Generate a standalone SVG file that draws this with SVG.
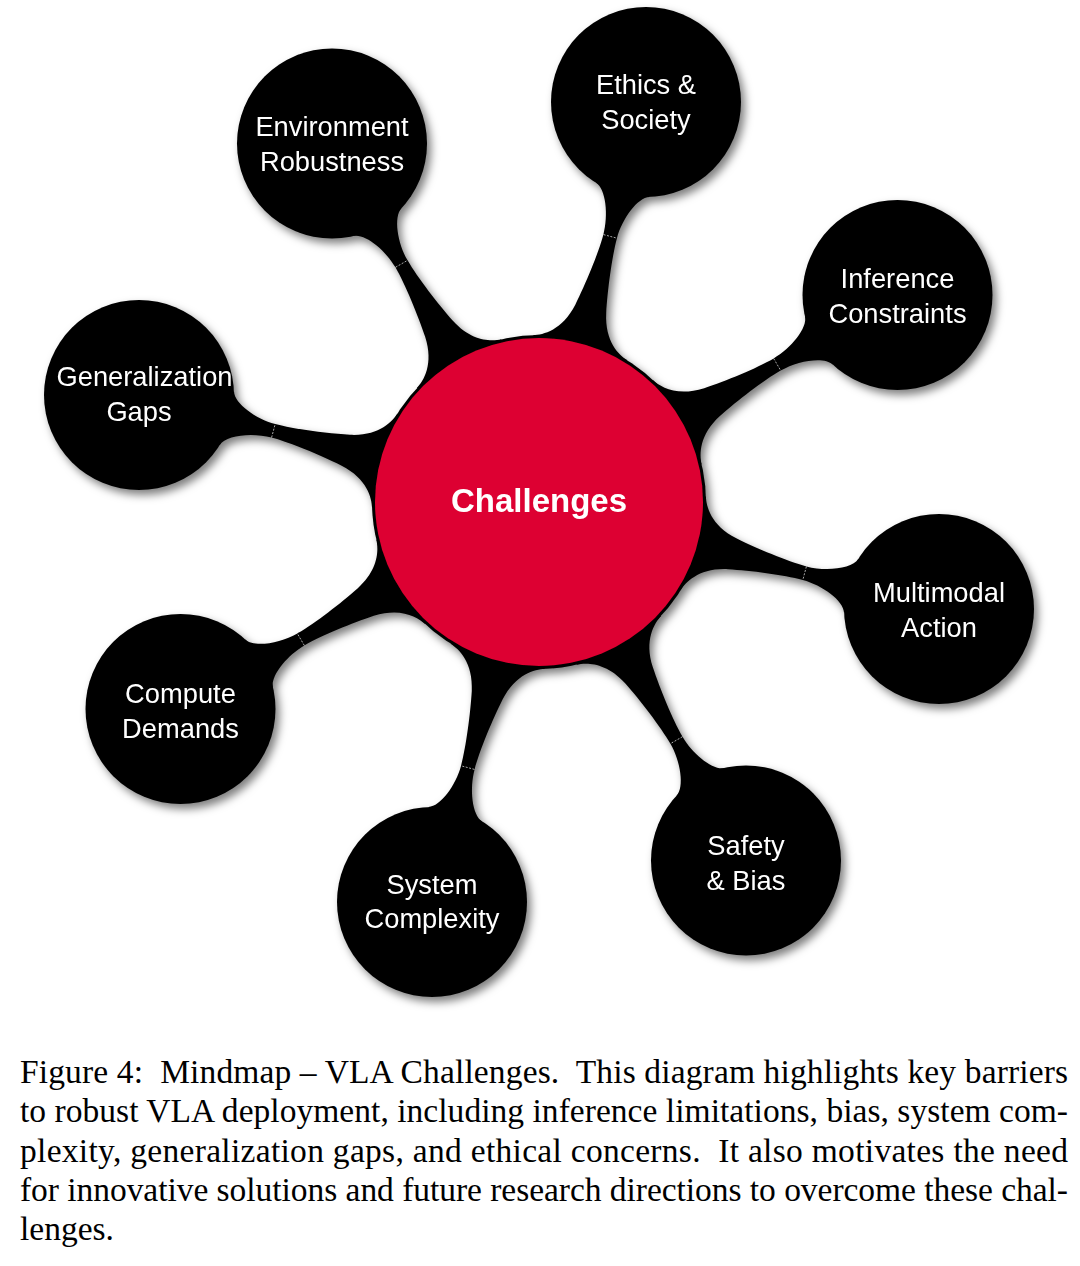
<svg xmlns="http://www.w3.org/2000/svg" xmlns:xlink="http://www.w3.org/1999/xlink" width="1080" height="1266" viewBox="0 0 1080 1266">
<style>
  .node { fill: #000; }
  .lbl { font-family: "Liberation Sans", Arial, Helvetica, sans-serif; font-size: 27.3px; fill: #fff; text-anchor: middle; }
  .root { font-family: "Liberation Sans", Arial, Helvetica, sans-serif; font-size: 33px; font-weight: bold; fill: #fff; text-anchor: middle; }
  .cap { font-family: "Liberation Serif", "Times New Roman", serif; font-size: 33.5px; fill: #000; white-space: pre; }
  .tick { stroke: #fff; stroke-width: 0.8; stroke-dasharray: 2 1.5; opacity: 0.75; }
</style>
<defs>
  <filter id="sh" x="-10%" y="-10%" width="120%" height="120%">
    <feDropShadow dx="4" dy="5" stdDeviation="4" flood-color="#000" flood-opacity="0.5"/>
  </filter>
  <g id="bar">
    <path fill="#000" d="M 159.7 48.8 C 162.6 39.2 172 22 200 16 C 222 11.5 255 7 275 7 C 295 7 319.7 16.3 323.2 27.8 L 360 0 L 323.2 -27.8 C 319.7 -16.3 295 -7 275 -7 C 255 -7 222 -11.5 200 -16 C 172 -22 162.6 -39.2 159.7 -48.8 L 100 0 Z"/>
    <line class="tick" x1="275" y1="-6.8" x2="275" y2="6.8"/>
  </g>
</defs>
<rect width="1080" height="1266" fill="#fff"/>
<g filter="url(#sh)">
  <g id="connectors">
    <use href="#bar" xlink:href="#bar" transform="translate(539 502) rotate(-120)"/>
    <use href="#bar" xlink:href="#bar" transform="translate(539 502) rotate(-75)"/>
    <use href="#bar" xlink:href="#bar" transform="translate(539 502) rotate(-30)"/>
    <use href="#bar" xlink:href="#bar" transform="translate(539 502) rotate(15)"/>
    <use href="#bar" xlink:href="#bar" transform="translate(539 502) rotate(60)"/>
    <use href="#bar" xlink:href="#bar" transform="translate(539 502) rotate(105)"/>
    <use href="#bar" xlink:href="#bar" transform="translate(539 502) rotate(150)"/>
    <use href="#bar" xlink:href="#bar" transform="translate(539 502) rotate(195)"/>
  </g>
  <g id="node-challenges">
    <circle cx="539" cy="502" r="167" fill="#000"/>
    <circle cx="539" cy="502" r="164" fill="#DD0030"/>
    <text class="root" x="539" y="512">Challenges</text>
  </g>
  <g id="node-environment">
    <circle class="node" cx="332" cy="143.5" r="95"/>
    <text class="lbl" x="332" y="136">Environment</text>
    <text class="lbl" x="332" y="171">Robustness</text>
  </g>
  <g id="node-ethics">
    <circle class="node" cx="646" cy="102" r="95"/>
    <text class="lbl" x="646" y="94">Ethics &amp;</text>
    <text class="lbl" x="646" y="129">Society</text>
  </g>
  <g id="node-inference">
    <circle class="node" cx="897.5" cy="295" r="95"/>
    <text class="lbl" x="897.5" y="288">Inference</text>
    <text class="lbl" x="897.5" y="323">Constraints</text>
  </g>
  <g id="node-multimodal">
    <circle class="node" cx="939" cy="609" r="95"/>
    <text class="lbl" x="939" y="602">Multimodal</text>
    <text class="lbl" x="939" y="637">Action</text>
  </g>
  <g id="node-safety">
    <circle class="node" cx="746" cy="860.5" r="95"/>
    <text class="lbl" x="746" y="855">Safety</text>
    <text class="lbl" x="746" y="890">&amp; Bias</text>
  </g>
  <g id="node-system">
    <circle class="node" cx="432" cy="902" r="95"/>
    <text class="lbl" x="432" y="894">System</text>
    <text class="lbl" x="432" y="928">Complexity</text>
  </g>
  <g id="node-compute">
    <circle class="node" cx="180.5" cy="709" r="95"/>
    <text class="lbl" x="180.5" y="703">Compute</text>
    <text class="lbl" x="180.5" y="738">Demands</text>
  </g>
  <g id="node-generalization">
    <circle class="node" cx="139" cy="395" r="95"/>
    <text class="lbl" x="144.5" y="386">Generalization</text>
    <text class="lbl" x="139" y="421">Gaps</text>
  </g>
</g>
<g id="caption">
  <text class="cap" x="20" y="1083" textLength="1048" lengthAdjust="spacing">Figure 4:  Mindmap – VLA Challenges.  This diagram highlights key barriers</text>
  <text class="cap" x="20" y="1122.3" textLength="1048" lengthAdjust="spacing">to robust VLA deployment, including inference limitations, bias, system com-</text>
  <text class="cap" x="20" y="1161.6" textLength="1048" lengthAdjust="spacing">plexity, generalization gaps, and ethical concerns.  It also motivates the need</text>
  <text class="cap" x="20" y="1200.9" textLength="1048" lengthAdjust="spacing">for innovative solutions and future research directions to overcome these chal-</text>
  <text class="cap" x="20" y="1240.2">lenges.</text>
</g>
</svg>
